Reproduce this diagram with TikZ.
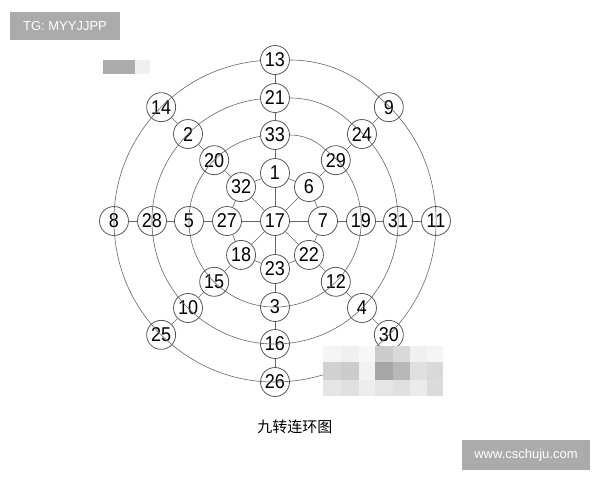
\documentclass[tikz,border=0pt]{standalone}
\usepackage{fontspec}
\setmainfont{Liberation Sans}
\newfontfamily\numfont[FakeStretch=0.9]{Liberation Sans}
\newfontfamily\cjk{Noto Sans CJK SC}

\begin{document}
\begin{tikzpicture}[x=1pt,y=1pt,
    num/.style={draw=black!65,line width=0.8pt,circle,fill=white,minimum size=29pt,inner sep=0pt,
                font=\numfont\fontsize{20}{20}\selectfont},
    link/.style={draw=black!60,line width=0.6pt},
    tagbox/.style={fill=black!33,text=white,inner sep=0pt}]
\useasboundingbox (-275,-259) rectangle (325,221);
% hub and the four rings
\node[num] (n17) at (0,0) {17};
\foreach \a/\ra/\rb/\rc/\rd in {90/1/33/21/13, 45/6/29/24/9, 0/7/19/31/11,
        -45/22/12/4/30, -90/23/3/16/26, -135/18/15/10/25, 180/27/5/28/8, 135/32/20/2/14}{
    \node[num] (n\ra) at (\a:48) {\ra};
    \node[num] (n\rb) at (\a:86) {\rb};
    \node[num] (n\rc) at (\a:123) {\rc};
    \node[num] (n\rd) at (\a:161) {\rd};
    \draw[link] (n17) -- (n\ra) -- (n\rb) -- (n\rc) -- (n\rd);
}
\draw[link] (n1) -- (n6) -- (n7) -- (n22) -- (n23) -- (n18) -- (n27) -- (n32) -- (n1);
\draw[link,looseness=0.9] (n33) to[bend left=22.5] (n29) to[bend left=22.5] (n19)
    to[bend left=22.5] (n12) to[bend left=22.5] (n3) to[bend left=22.5] (n15)
    to[bend left=22.5] (n5) to[bend left=22.5] (n20) to[bend left=22.5] (n33);
\draw[link,looseness=0.9] (n21) to[bend left=22.5] (n24) to[bend left=22.5] (n31)
    to[bend left=22.5] (n4) to[bend left=22.5] (n16) to[bend left=22.5] (n10)
    to[bend left=22.5] (n28) to[bend left=22.5] (n2) to[bend left=22.5] (n21);
\draw[link,looseness=0.9] (n13) to[bend left=22.5] (n9) to[bend left=22.5] (n11)
    to[bend left=22.5] (n30) to[bend left=22.5] (n26) to[bend left=22.5] (n25)
    to[bend left=22.5] (n8) to[bend left=22.5] (n14) to[bend left=22.5] (n13);
% caption
\node[font=\cjk\fontsize{15}{15}\selectfont] (cap) at (20,-206) {九转连环图};
% watermarks
\node[tagbox,minimum width=110pt,minimum height=28pt,font=\fontsize{13}{13}\selectfont]
    (tg) at (-210,195) {TG: MYYJJPP};
\node[tagbox,minimum width=128pt,minimum height=30pt,font=\fontsize{13}{13}\selectfont]
    (www) at (251,-234) {www.cschuju.com};
\fill[white!67!black] (-172,161) rectangle (-140,147);
\fill[white!94!black] (-140,161) rectangle (-125,147);
\foreach \x/\w/\ga/\gb/\gc in {323/18/96/82/90, 341/18/94/80/88, 359/16/97/95/93,
        375/18/80/65/90, 393/17/85/72/88, 410/17/94/88/92, 427/16/96/85/86}{
    \fill[white!\ga!black] (\x-275,-125) rectangle ++(\w,-16);
    \fill[white!\gb!black] (\x-275,-141) rectangle ++(\w,-18);
    \fill[white!\gc!black] (\x-275,-159) rectangle ++(\w,-16);
}
\end{tikzpicture}
\end{document}
